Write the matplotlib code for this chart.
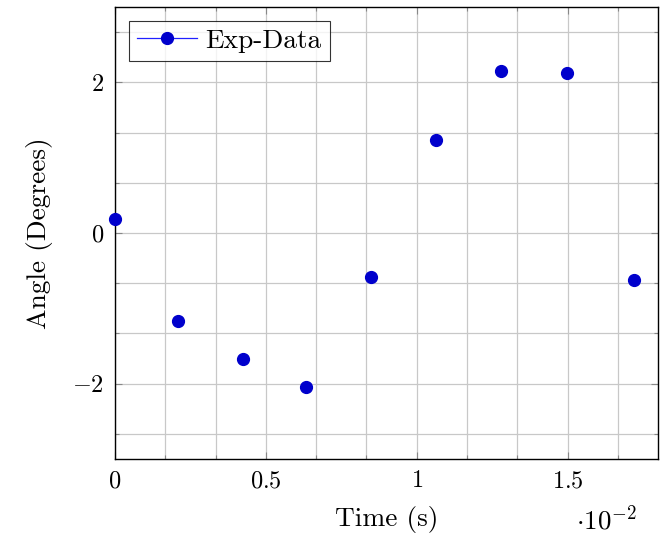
import matplotlib
matplotlib.use("Agg")
import matplotlib.pyplot as plt
from matplotlib.lines import Line2D
from matplotlib.ticker import MultipleLocator, FixedLocator

plt.rcParams['font.family'] = 'serif'
plt.rcParams['font.serif'] = ['cmr10', 'DejaVu Serif']
plt.rcParams['mathtext.fontset'] = 'cm'
plt.rcParams['axes.unicode_minus'] = False

# Data (time in units of 1e-2 s)
time_vals = [0.0, 0.209, 0.423, 0.633, 0.849, 1.065, 1.280, 1.499, 1.719]
angle_vals = [0.18, -1.17, -1.67, -2.04, -0.58, 1.23, 2.15, 2.12, -0.62]
xtick_vals = [0, 0.5, 1, 1.5]
xtick_labels = ['$0$', '$0.5$', '$1$', '$1.5$']
ytick_vals = [-2, 0, 2]
ytick_labels = ['$-2$', '$0$', '$2$']

fig = plt.figure(figsize=(6.6, 5.35), dpi=100)
ax = fig.add_axes([115/660, 1-459/535, (658-115)/660, (459-7)/535])

mark_col = '#0000cc'
line_col = '#2020ff'

ax.plot(time_vals, angle_vals, linestyle='none', marker='o', markersize=8.5,
        color=mark_col, markeredgecolor=mark_col, zorder=3, clip_on=False)

ax.set_xlim(0, 1.8)
ax.set_ylim(-3, 3)

ax.xaxis.set_major_locator(FixedLocator(xtick_vals))
ax.set_xticklabels(xtick_labels)
ax.yaxis.set_major_locator(FixedLocator(ytick_vals))
ax.set_yticklabels(ytick_labels)
ax.xaxis.set_minor_locator(MultipleLocator(1/6))
ax.yaxis.set_minor_locator(MultipleLocator(2/3))

ax.grid(True, which='both', color='#c8c8c8', linewidth=0.9)
ax.set_axisbelow(True)
ax.tick_params(which='both', direction='in', length=5, width=0.8, color='#888888',
               top=True, right=True, labelsize=17.5, pad=8)
ax.tick_params(which='minor', length=3)
for s in ax.spines.values():
    s.set_linewidth(1.0)
    s.set_color('black')

ax.set_xlabel('Time (s)', fontsize=19.7, labelpad=10)
ax.set_ylabel('Angle (Degrees)', fontsize=19.7, labelpad=14)

fig.text(637/660, 1-529/535, r'$\cdot 10^{-2}$', fontsize=19.5,
         ha='right', va='baseline')

handle = Line2D([], [], color=line_col, linewidth=0.9, marker='o', markersize=8.5,
                markerfacecolor=mark_col, markeredgecolor=mark_col)
leg = ax.legend([handle], ['Exp-Data'], loc='upper left', fontsize=19.7,
                frameon=True, fancybox=False, edgecolor='black',
                borderpad=0.3, handlelength=2.2, handletextpad=0.3,
                borderaxespad=0.5)
leg.get_frame().set_linewidth(0.8)

fig.savefig('out.png', dpi=100)
